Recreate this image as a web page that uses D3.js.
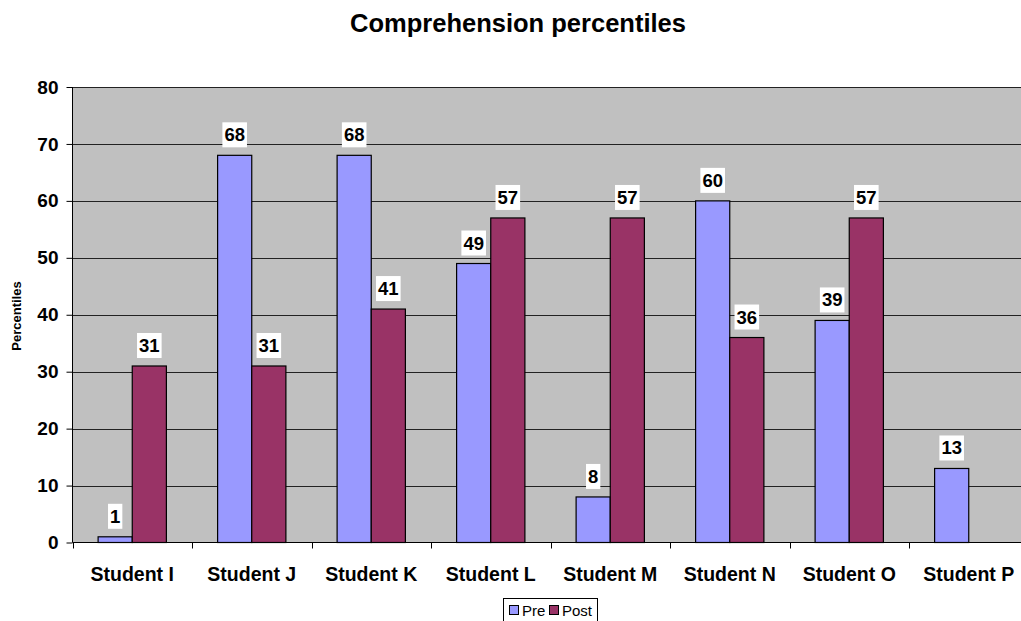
<!DOCTYPE html>
<html>
<head>
<meta charset="utf-8">
<script src="https://cdn.jsdelivr.net/npm/d3@7/dist/d3.min.js"></script>
<style>
  html, body { margin: 0; padding: 0; background: #fff; overflow: hidden; }
  svg { display: block; font-family: "Liberation Sans", Arial, sans-serif; }
</style>
</head>
<body>
<svg id="chart" width="1021" height="621"></svg>
<script>
// Chart data
const categories = ["Student I", "Student J", "Student K", "Student L", "Student M", "Student N", "Student O", "Student P"];
const seriesNames = ["Pre", "Post"];
const preValues  = [1, 68, 68, 49, 8, 60, 39, 13];
const postValues = [31, 31, 41, 57, 57, 36, 57, null];
const yTicks = [0, 10, 20, 30, 40, 50, 60, 70, 80];
const colors = { Pre: "#9999FF", Post: "#993366" };

const rows = categories.map((c, i) => ({ category: c, Pre: preValues[i], Post: postValues[i] }));

const svg = d3.select("#chart");
const plot = { left: 72.5, right: 1028.5, top: 87, bottom: 542.5 };

const x0 = d3.scaleBand().domain(categories).range([plot.left, plot.right]).paddingInner(0).paddingOuter(0);
const x1 = d3.scaleBand().domain(seriesNames).range([0, x0.bandwidth()]).paddingInner(0).paddingOuter(0.75);
const y = d3.scaleLinear().domain([0, 80]).range([plot.bottom, plot.top]);

// Title
svg.append("text")
  .attr("x", 518).attr("y", 32)
  .attr("text-anchor", "middle")
  .attr("font-size", 25.5).attr("font-weight", "bold")
  .text("Comprehension percentiles");

// Plot background
svg.append("rect")
  .attr("x", plot.left).attr("y", plot.top)
  .attr("width", plot.right - plot.left).attr("height", plot.bottom - plot.top)
  .attr("fill", "#C0C0C0");

// Horizontal gridlines
svg.append("g")
  .selectAll("line")
  .data(yTicks.filter(t => t > 0))
  .join("line")
  .attr("x1", plot.left).attr("x2", plot.right)
  .attr("y1", d => Math.round(y(d)) + 0.5).attr("y2", d => Math.round(y(d)) + 0.5)
  .attr("stroke", "#222").attr("stroke-width", 1);

// Bars
const groups = svg.append("g")
  .selectAll("g")
  .data(rows)
  .join("g")
  .attr("transform", d => `translate(${x0(d.category)},0)`);

groups.selectAll("rect")
  .data(d => seriesNames.filter(s => d[s] != null).map(s => ({ key: s, value: d[s] })))
  .join("rect")
  .attr("x", d => x1(d.key))
  .attr("y", d => y(d.value))
  .attr("width", x1.bandwidth())
  .attr("height", d => y(0) - y(d.value))
  .attr("fill", d => colors[d.key])
  .attr("stroke", "#000").attr("stroke-width", 1.2);

// Value labels on white boxes
groups.each(function (d) {
  const g = d3.select(this);
  seriesNames.forEach(s => {
    if (d[s] == null) return;
    const cx = x1(s) + x1.bandwidth() / 2;
    const boxBottom = y(d[s]) - 8;
    const lg = g.append("g");
    const t = lg.append("text")
      .attr("x", cx).attr("y", boxBottom - 6)
      .attr("text-anchor", "middle")
      .attr("font-size", 18.5).attr("font-weight", "bold")
      .text(d[s]);
    const bb = t.node().getBBox();
    lg.insert("rect", "text")
      .attr("x", bb.x - 2).attr("y", boxBottom - 25)
      .attr("width", bb.width + 4).attr("height", 25)
      .attr("fill", "#fff");
  });
});

// Y axis
const yAxis = svg.append("g")
  .attr("transform", `translate(${plot.left},0)`)
  .call(d3.axisLeft(y).tickValues(yTicks).tickSize(6).tickPadding(8).tickFormat(d3.format("d")));
yAxis.select(".domain").attr("stroke", "#000").attr("d", `M0,${plot.top}V${plot.bottom}`);
yAxis.selectAll(".tick line").attr("stroke", "#000");
yAxis.selectAll(".tick text")
  .attr("font-size", 19).attr("font-weight", "bold").attr("fill", "#000")
  .attr("font-family", "Liberation Sans, Arial, sans-serif");

// X axis with ticks between categories
const xAxis = svg.append("g").attr("transform", `translate(0,${plot.bottom})`);
xAxis.append("line")
  .attr("x1", plot.left).attr("x2", plot.right)
  .attr("y1", 0).attr("y2", 0)
  .attr("stroke", "#000");
xAxis.selectAll("line.tick")
  .data(categories.map(c => x0(c)))
  .join("line")
  .attr("class", "tick")
  .attr("x1", d => Math.round(d) + 0.5).attr("x2", d => Math.round(d) + 0.5)
  .attr("y1", 0).attr("y2", 6)
  .attr("stroke", "#000");
xAxis.selectAll("text")
  .data(categories)
  .join("text")
  .attr("x", d => x0(d) + x0.bandwidth() / 2)
  .attr("y", 38)
  .attr("text-anchor", "middle")
  .attr("font-size", 19.5).attr("font-weight", "bold")
  .text(d => d);

// Y axis title
svg.append("text")
  .attr("transform", "translate(21,316) rotate(-90)")
  .attr("text-anchor", "middle")
  .attr("font-size", 13).attr("font-weight", "bold")
  .text("Percentiles");

// Legend
const legend = svg.append("g").attr("transform", "translate(503,598)");
legend.append("rect")
  .attr("x", 0.5).attr("y", 0.5).attr("width", 94).attr("height", 26)
  .attr("fill", "#fff").attr("stroke", "#000");
const legendItems = [{ key: "Pre", x: 6 }, { key: "Post", x: 46 }];
legendItems.forEach(it => {
  legend.append("rect")
    .attr("x", it.x + 0.5).attr("y", 7.5).attr("width", 9).attr("height", 9)
    .attr("fill", colors[it.key]).attr("stroke", "#000");
  legend.append("text")
    .attr("x", it.x + 13).attr("y", 18)
    .attr("font-size", 15)
    .text(it.key);
});
</script>
</body>
</html>
